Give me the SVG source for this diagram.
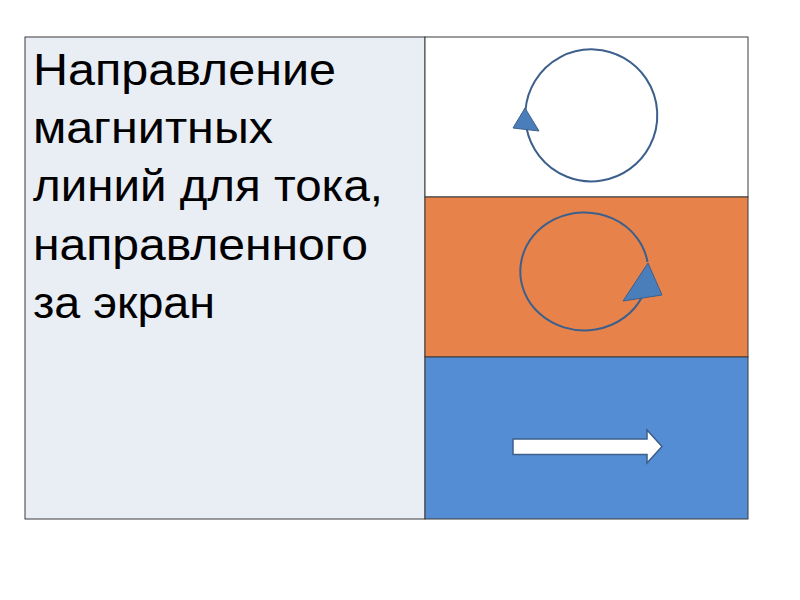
<svg xmlns="http://www.w3.org/2000/svg" width="800" height="600" viewBox="0 0 800 600">
<style>
.cell{stroke:#3a3a3a;stroke-width:1}
.loop{fill:none;stroke:#3c5f8c;stroke-width:2}
.head{fill:#4a7ebb;stroke:#3c5f8c;stroke-width:1}
.label{font-family:"Liberation Sans",Arial,sans-serif;font-size:45px;fill:#000}
</style>
<rect width="800" height="600" fill="#ffffff"/>
<g id="text-cell">
<rect class="cell" x="25" y="37" width="400" height="482" fill="#e9edf4"/>
<text class="label" x="33" y="84.5" textLength="303" lengthAdjust="spacingAndGlyphs">Направление</text>
<text class="label" x="33" y="143" textLength="240" lengthAdjust="spacingAndGlyphs">магнитных</text>
<text class="label" x="33" y="201" textLength="350" lengthAdjust="spacingAndGlyphs">линий для тока,</text>
<text class="label" x="33" y="259.5" textLength="335" lengthAdjust="spacingAndGlyphs">направленного</text>
<text class="label" x="33" y="318" textLength="182" lengthAdjust="spacingAndGlyphs">за экран</text>
</g>
<g id="cell-top">
<rect class="cell" x="425" y="37" width="323" height="160" fill="#ffffff"/>
<path class="loop" d="M525.5,110 A66,66 0 1 1 526.5,128"/>
<polygon class="head" points="525,108 513,128 539,131"/>
</g>
<g id="cell-middle">
<rect class="cell" x="425" y="197" width="323" height="160" fill="#e7834a"/>
<path class="loop" d="M647.5,262 A64,59 0 1 0 642,297"/>
<polygon class="head" points="648,263 623,301 662,295"/>
</g>
<g id="cell-bottom">
<rect class="cell" x="425" y="357" width="323" height="162" fill="#548dd4"/>
<polygon points="513,439 647,439 647,430 662,446.5 647,463 647,454.5 513,454.5" fill="#ffffff" stroke="#3c5f8c" stroke-width="1.5"/>
</g>
</svg>
